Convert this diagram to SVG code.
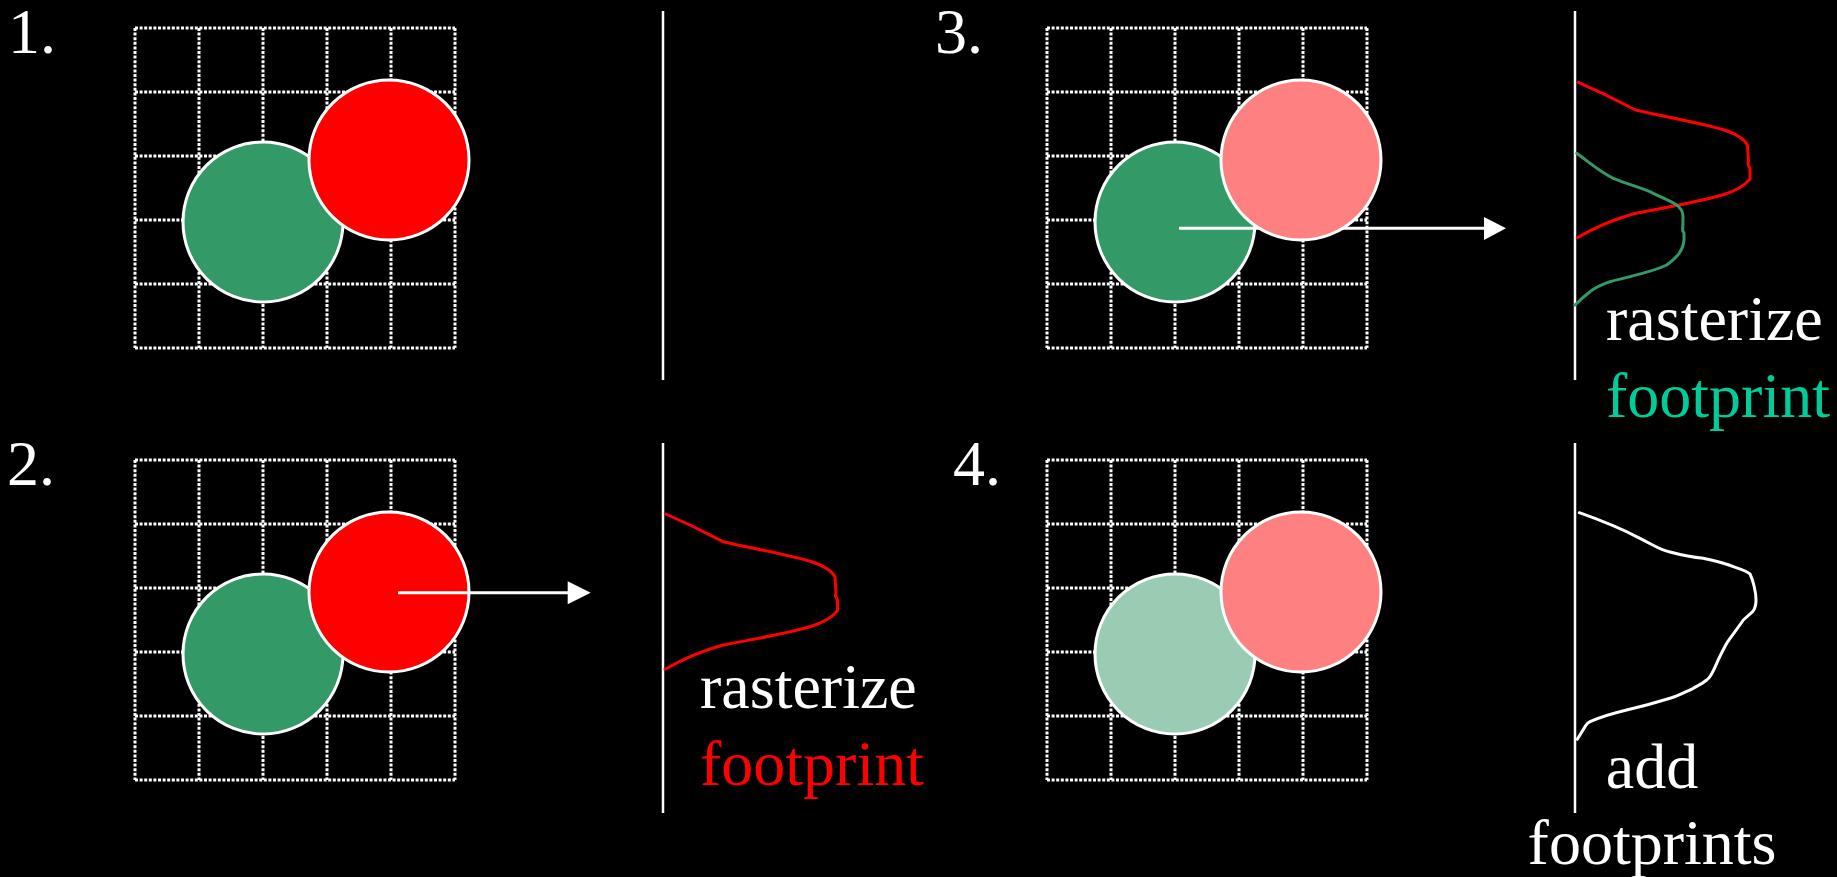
<svg xmlns="http://www.w3.org/2000/svg" xmlns:xlink="http://www.w3.org/1999/xlink" width="1837" height="877" viewBox="0 0 1837 877">
<style>
  .lbl{font-family:"Liberation Serif","Times New Roman",serif;font-size:64px;fill:#ffffff}
  .grid line{stroke:#ffffff;stroke-width:3;stroke-dasharray:3 1.6;fill:none}
  .circ{stroke:#ffffff;stroke-width:3}
  .axis{stroke:#ffffff;stroke-width:2.5;fill:none}
  .curve{fill:none;stroke-width:3;stroke-linejoin:round;stroke-linecap:round}
  .arrow{stroke:#ffffff;stroke-width:3;fill:none}
</style>
<defs>
  <g id="gridTpl" class="grid">
    <line x1="135" y1="28" x2="135" y2="348"/>
    <line x1="199" y1="28" x2="199" y2="348"/>
    <line x1="263" y1="28" x2="263" y2="348"/>
    <line x1="327" y1="28" x2="327" y2="348"/>
    <line x1="391" y1="28" x2="391" y2="348"/>
    <line x1="455" y1="28" x2="455" y2="348"/>
    <line x1="135" y1="28" x2="455" y2="28"/>
    <line x1="135" y1="92" x2="455" y2="92"/>
    <line x1="135" y1="156" x2="455" y2="156"/>
    <line x1="135" y1="220" x2="455" y2="220"/>
    <line x1="135" y1="284" x2="455" y2="284"/>
    <line x1="135" y1="348" x2="455" y2="348"/>
  </g>
  <path id="redCurve" d="M665.7,514 L690,525 L723,541.7 C760,550 790,555 811.7,561.7 C825,566 832,571 835,577 L836,593 L835.5,596 L837.5,600 L837.5,611 C832,617 825,622 812,626 C790,633 760,638 723,645 C705,650 688,656 665,669.3"/>
</defs>
<rect x="0" y="0" width="1837" height="877" fill="#000000"/>

<g id="panel1">
  <text class="lbl" x="8" y="53">1.</text>
  <use xlink:href="#gridTpl" href="#gridTpl"/>
  <circle class="circ" cx="263" cy="222" r="80" fill="#339966"/>
  <circle class="circ" cx="389" cy="160" r="80" fill="#ff0000"/>
  <line class="axis" x1="663" y1="11" x2="663" y2="380"/>
</g>

<g id="panel2">
  <text class="lbl" x="7" y="485">2.</text>
  <use xlink:href="#gridTpl" href="#gridTpl" transform="translate(0,432)"/>
  <circle class="circ" cx="263" cy="654" r="80" fill="#339966"/>
  <circle class="circ" cx="389" cy="592" r="80" fill="#ff0000"/>
  <line class="axis" x1="663" y1="443" x2="663" y2="813"/>
  <use xlink:href="#redCurve" href="#redCurve" class="curve" stroke="#ff0000"/>
  <text class="lbl" x="700" y="708">rasterize</text>
  <text class="lbl" x="700" y="785" fill="#ff0000" style="fill:#ff0000">footprint</text>
</g>

<g id="panel3">
  <text class="lbl" x="935" y="53">3.</text>
  <use xlink:href="#gridTpl" href="#gridTpl" transform="translate(912,0)"/>
  <circle class="circ" cx="1175" cy="222" r="80" fill="#339966"/>
  <g id="arrow3">
    <line class="arrow" x1="1179" y1="228.3" x2="1486" y2="228.3"/>
    <polygon points="1484,217 1506,228.3 1484,240" fill="#ffffff"/>
  </g>
  <circle class="circ" cx="1301" cy="160" r="80" fill="#ff8080"/>
  <line class="axis" x1="1575" y1="11" x2="1575" y2="380"/>
  <use xlink:href="#redCurve" href="#redCurve" class="curve" stroke="#ff0000" transform="translate(912.5,-431.7)"/>
  <path class="curve" stroke="#339966" d="M1576.7,153.3 C1590,163 1600,172 1613.3,178.3 C1630,185 1645,189 1653.3,193.3 C1665,199 1674,202 1678,206 C1683,211 1683,214 1683,218 L1682.7,231 L1684,233 L1684,240 C1683,250 1678,257 1666.7,265 C1650,273 1630,276 1610,281.7 C1598,286 1592,290 1590,291.7 C1583,297 1579,301 1575,305"/>
  <text class="lbl" x="1606" y="340">rasterize</text>
  <text class="lbl" x="1606" y="417" style="fill:#00cc99">footprint</text>
</g>

<g id="panel4">
  <text class="lbl" x="953" y="485">4.</text>
  <use xlink:href="#gridTpl" href="#gridTpl" transform="translate(912,432)"/>
  <circle class="circ" cx="1175" cy="654" r="80" fill="#99ccb3"/>
  <circle class="circ" cx="1301" cy="592" r="80" fill="#ff8080"/>
  <line class="axis" x1="1575" y1="443" x2="1575" y2="813"/>
  <path class="curve" stroke="#ffffff" d="M1579.3,512.7 C1600,520 1620,528 1640,538.3 C1655,546 1660,550 1670,552 C1685,556 1700,558 1703.3,558.3 C1715,561 1725,563 1733.3,566.7 C1743,570 1748,572 1750,574 C1753,580 1756,592 1756,600 C1756,606 1754,610 1752.7,611.7 L1743.3,620 C1738,628 1730,638 1726.7,643.3 C1722,652 1719,658 1716.7,663.3 C1713,672 1710,678 1706.7,680 C1702,684 1697,686 1693.3,688.3 C1685,692 1678,696 1670,698.3 C1655,703 1640,707 1626.7,710 C1610,714 1598,718 1590,721.7 C1587,723 1586,725 1585,726.7 L1577.3,739.3"/>
  <text class="lbl" x="1652" y="788" text-anchor="middle">add</text>
  <text class="lbl" x="1652" y="864" text-anchor="middle">footprints</text>
</g>

<g id="connectors">
  <g id="arrow2">
    <line class="arrow" x1="398" y1="592.7" x2="569" y2="592.7"/>
    <polygon points="567.7,581.2 590.7,592.7 567.7,604.2" fill="#ffffff"/>
  </g>
</g>
</svg>
